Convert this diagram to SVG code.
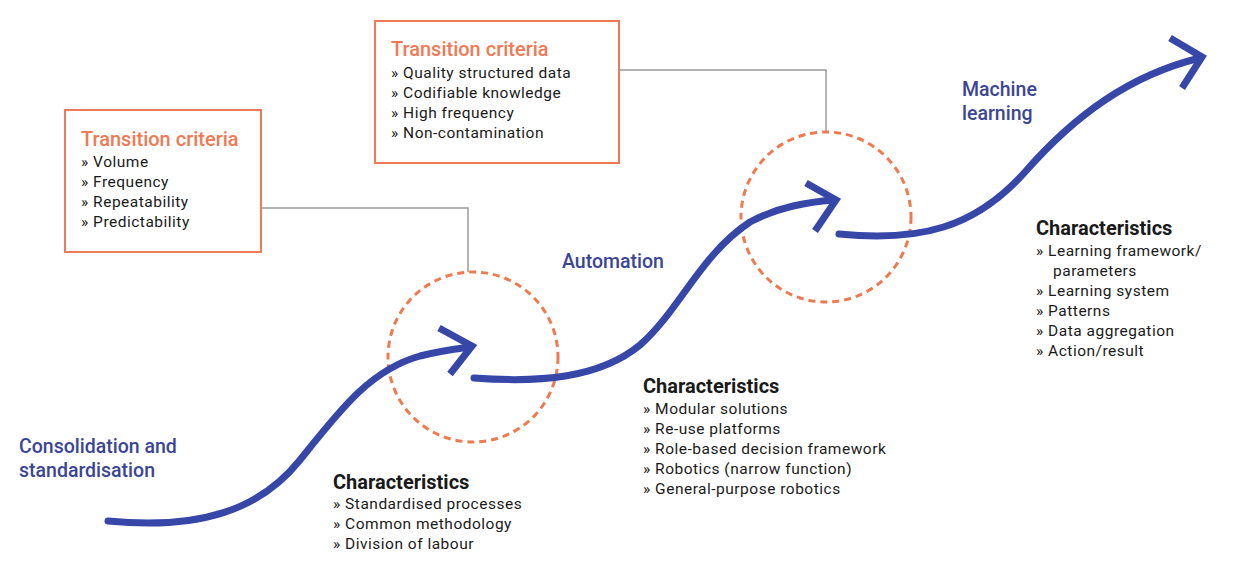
<svg xmlns="http://www.w3.org/2000/svg" width="1236" height="563" viewBox="0 0 1236 563">
<style>
.box{fill:#fff;stroke:#ef7a55;stroke-width:2}
.conn{fill:none;stroke:#9a9a9a;stroke-width:1.5}
.ring{fill:none;stroke:#ef7a50;stroke-width:3;stroke-dasharray:7 5}
.flow{fill:none;stroke:#3747a8;stroke-width:7;stroke-linecap:round}
.head{fill:none;stroke:#3747a8;stroke-width:7;stroke-linecap:butt;stroke-linejoin:miter}
.stage{font-family:Roboto,"Liberation Sans",sans-serif;font-size:19.5px;font-weight:500;fill:#3a4596}
.tt{font-family:Roboto,"Liberation Sans",sans-serif;font-size:20px;font-weight:500;fill:#ef7a55}
.ch{font-family:Roboto,"Liberation Sans",sans-serif;font-size:20px;font-weight:700;fill:#1a1a1a}
.it{font-family:Roboto,"Liberation Sans",sans-serif;font-size:15.5px;letter-spacing:0.5px;fill:#1a1a1a}
</style>
<rect width="1236" height="563" fill="#fff"/>
<g id="connectors">
<polyline class="conn" points="261,208 468,208 468,272"/>
<polyline class="conn" points="619,70 826,70 826,132"/>
</g>
<g id="circle1"><circle class="ring" cx="473" cy="357" r="85"/></g>
<g id="circle2"><circle class="ring" cx="826" cy="217" r="85"/></g>
<g id="flow1">
<path class="flow" d="M108,521 C200,530 260,510 300,460 C340,410 370,370 420,356 C440,351 455,349 470,347"/>
<polyline class="head" points="439,328 472,346 450,374"/>
</g>
<g id="flow2">
<path class="flow" d="M474,378 C540,383 600,378 640,345 C680,310 700,255 750,222 C780,206 810,202 834,200"/>
<polyline class="head" points="806,183 836,200 815,231"/>
</g>
<g id="flow3">
<path class="flow" d="M839,234 C920,242 975,228 1025,172 C1075,115 1130,75 1200,58"/>
<polyline class="head" points="1170,38 1202,57 1182,88"/>
</g>
<g id="criteria1">
<rect class="box" x="65" y="110" width="196" height="142"/>
<text class="tt" x="81" y="146">Transition criteria</text>
<text class="it" x="81" y="167">» Volume</text>
<text class="it" x="81" y="187">» Frequency</text>
<text class="it" x="81" y="207">» Repeatability</text>
<text class="it" x="81" y="227">» Predictability</text>
</g>
<g id="criteria2">
<rect class="box" x="375" y="21" width="244" height="142"/>
<text class="tt" x="391" y="56">Transition criteria</text>
<text class="it" x="391" y="78">» Quality structured data</text>
<text class="it" x="391" y="98">» Codifiable knowledge</text>
<text class="it" x="391" y="118">» High frequency</text>
<text class="it" x="391" y="138">» Non-contamination</text>
</g>
<g id="stage1">
<text class="stage" x="19" y="453">Consolidation and</text>
<text class="stage" x="19" y="477">standardisation</text>
</g>
<g id="stage2"><text class="stage" x="562" y="268">Automation</text></g>
<g id="stage3">
<text class="stage" x="962" y="96">Machine</text>
<text class="stage" x="962" y="120">learning</text>
</g>
<g id="char1">
<text class="ch" x="333" y="489">Characteristics</text>
<text class="it" x="333" y="509">» Standardised processes</text>
<text class="it" x="333" y="529">» Common methodology</text>
<text class="it" x="333" y="549">» Division of labour</text>
</g>
<g id="char2">
<text class="ch" x="643" y="393">Characteristics</text>
<text class="it" x="643" y="414">» Modular solutions</text>
<text class="it" x="643" y="434">» Re-use platforms</text>
<text class="it" x="643" y="454">» Role-based decision framework</text>
<text class="it" x="643" y="474">» Robotics (narrow function)</text>
<text class="it" x="643" y="494">» General-purpose robotics</text>
</g>
<g id="char3">
<text class="ch" x="1036" y="235">Characteristics</text>
<text class="it" x="1036" y="256">» Learning framework/</text>
<text class="it" x="1053" y="276">parameters</text>
<text class="it" x="1036" y="296">» Learning system</text>
<text class="it" x="1036" y="316">» Patterns</text>
<text class="it" x="1036" y="336">» Data aggregation</text>
<text class="it" x="1036" y="356">» Action/result</text>
</g>
</svg>
